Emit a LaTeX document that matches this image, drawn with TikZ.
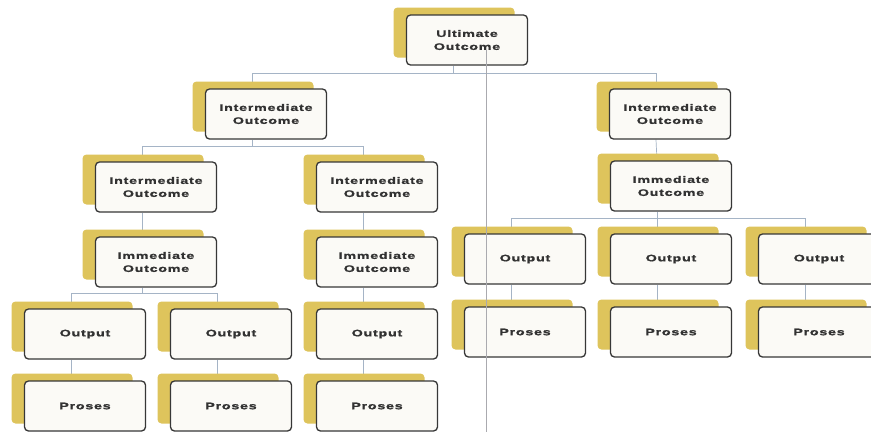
\documentclass[tikz,border=0pt]{standalone}
\usepackage{fontspec}
\newfontfamily\boxfont[UprightFont={* Bold},FakeStretch=1.5,LetterSpace=8,FakeBold=1.3]{Liberation Sans}
\usetikzlibrary{shadows,calc}
\definecolor{gold}{RGB}{222,196,92}
\definecolor{boxfill}{RGB}{251,250,246}
\definecolor{boxline}{RGB}{55,55,55}
\definecolor{linkcol}{RGB}{165,180,198}
\definecolor{txt}{RGB}{50,50,50}
\definecolor{creasecol}{RGB}{170,170,175}
\pgfdeclarelayer{back}
\pgfdeclarelayer{bg}
\pgfsetlayers{back,bg,main}
\tikzset{
  obox/.style={draw=boxline, line width=1.3pt, fill=boxfill, rounded corners=4pt,
    minimum width=121pt, minimum height=50pt, inner sep=0pt, align=center, text=txt,
    font={\boxfont\fontsize{9.5}{13}\selectfont},
    drop shadow={shadow xshift=-13pt, shadow yshift=7.5pt, fill=gold, opacity=1}},
  linkline/.style={draw=linkcol, line width=0.7pt},
  crease/.style={draw=creasecol, line width=0.5pt}
}
\begin{document}
\begin{tikzpicture}[x=1pt,y=-1pt]
\begin{pgfonlayer}{back}
  \fill[white] (0,0) rectangle (871,432);
\end{pgfonlayer}
\useasboundingbox (0,0) rectangle (871,432);
% level 0
\node[obox] (U) at (467,40) {Ultimate\\Outcome};
% level 1
\node[obox] (I1L) at (266,114) {Intermediate\\Outcome};
\node[obox] (I1R) at (670,114) {Intermediate\\Outcome};
% level 2
\node[obox] (I2L) at (156,187) {Intermediate\\Outcome};
\node[obox] (I2M) at (377,187) {Intermediate\\Outcome};
\node[obox] (IMR) at (671,186) {Immediate\\Outcome};
% level 3
\node[obox] (IML) at (156,262) {Immediate\\Outcome};
\node[obox] (IMM) at (377,262) {Immediate\\Outcome};
\node[obox] (OR1) at (525,259) {Output};
\node[obox] (OR2) at (671,259) {Output};
\node[obox] (OR3) at (819,259) {Output};
% level 4
\node[obox] (OL1) at (85,334) {Output};
\node[obox] (OL2) at (231,334) {Output};
\node[obox] (OL3) at (377,334) {Output};
\node[obox] (PR1) at (525,332) {Proses};
\node[obox] (PR2) at (671,332) {Proses};
\node[obox] (PR3) at (819,332) {Proses};
% level 5
\node[obox] (PL1) at (85,406) {Proses};
\node[obox] (PL2) at (231,406) {Proses};
\node[obox] (PL3) at (377,406) {Proses};

\begin{pgfonlayer}{bg}
  % Ultimate -> level 1
  \draw[linkline] ([xshift=-14pt]U.south) -- ++(0,8) coordinate (b0);
  \draw[linkline] (b0) -| ([xshift=-14pt]I1L.north);
  \draw[linkline] (b0) -| ([xshift=-14pt]I1R.north);
  % left intermediate -> level 2
  \draw[linkline] ([xshift=-14pt]I1L.south) -- ++(0,7) coordinate (b1);
  \draw[linkline] (b1) -| ([xshift=-14pt]I2L.north);
  \draw[linkline] (b1) -| ([xshift=-14pt]I2M.north);
  % verticals
  \draw[linkline] ([xshift=-14pt]I2L.south) -- ([xshift=-14pt]IML.north);
  \draw[linkline] ([xshift=-14pt]I2M.south) -- ([xshift=-14pt]IMM.north);
  \draw[linkline] ([xshift=-14pt]IMM.south) -- ([xshift=-14pt]OL3.north);
  \draw[linkline] ([xshift=-14pt]I1R.south) -- ([xshift=-14pt]IMR.north);
  % left immediate -> outputs
  \draw[linkline] ([xshift=-14pt]IML.south) -- ++(0,6) coordinate (b2);
  \draw[linkline] (b2) -| ([xshift=-14pt]OL1.north);
  \draw[linkline] (b2) -| ([xshift=-14pt]OL2.north);
  % right immediate -> outputs
  \draw[linkline] ([xshift=-14pt]IMR.south) -- ++(0,7) coordinate (b3);
  \draw[linkline] (b3) -| ([xshift=-14pt]OR1.north);
  \draw[linkline] (b3) -| ([xshift=-14pt]OR2.north);
  \draw[linkline] (b3) -| ([xshift=-14pt]OR3.north);
  % outputs -> proses
  \draw[linkline] ([xshift=-14pt]OL1.south) -- ([xshift=-14pt]PL1.north);
  \draw[linkline] ([xshift=-14pt]OL2.south) -- ([xshift=-14pt]PL2.north);
  \draw[linkline] ([xshift=-14pt]OL3.south) -- ([xshift=-14pt]PL3.north);
  \draw[linkline] ([xshift=-14pt]OR1.south) -- ([xshift=-14pt]PR1.north);
  \draw[linkline] ([xshift=-14pt]OR2.south) -- ([xshift=-14pt]PR2.north);
  \draw[linkline] ([xshift=-14pt]OR3.south) -- ([xshift=-14pt]PR3.north);
\end{pgfonlayer}

% faint vertical crease line crossing the picture
\coordinate (c1) at (486,50);
\coordinate (c2) at (486,432);
\draw[crease] (c1) -- (c2);
\end{tikzpicture}
\end{document}
